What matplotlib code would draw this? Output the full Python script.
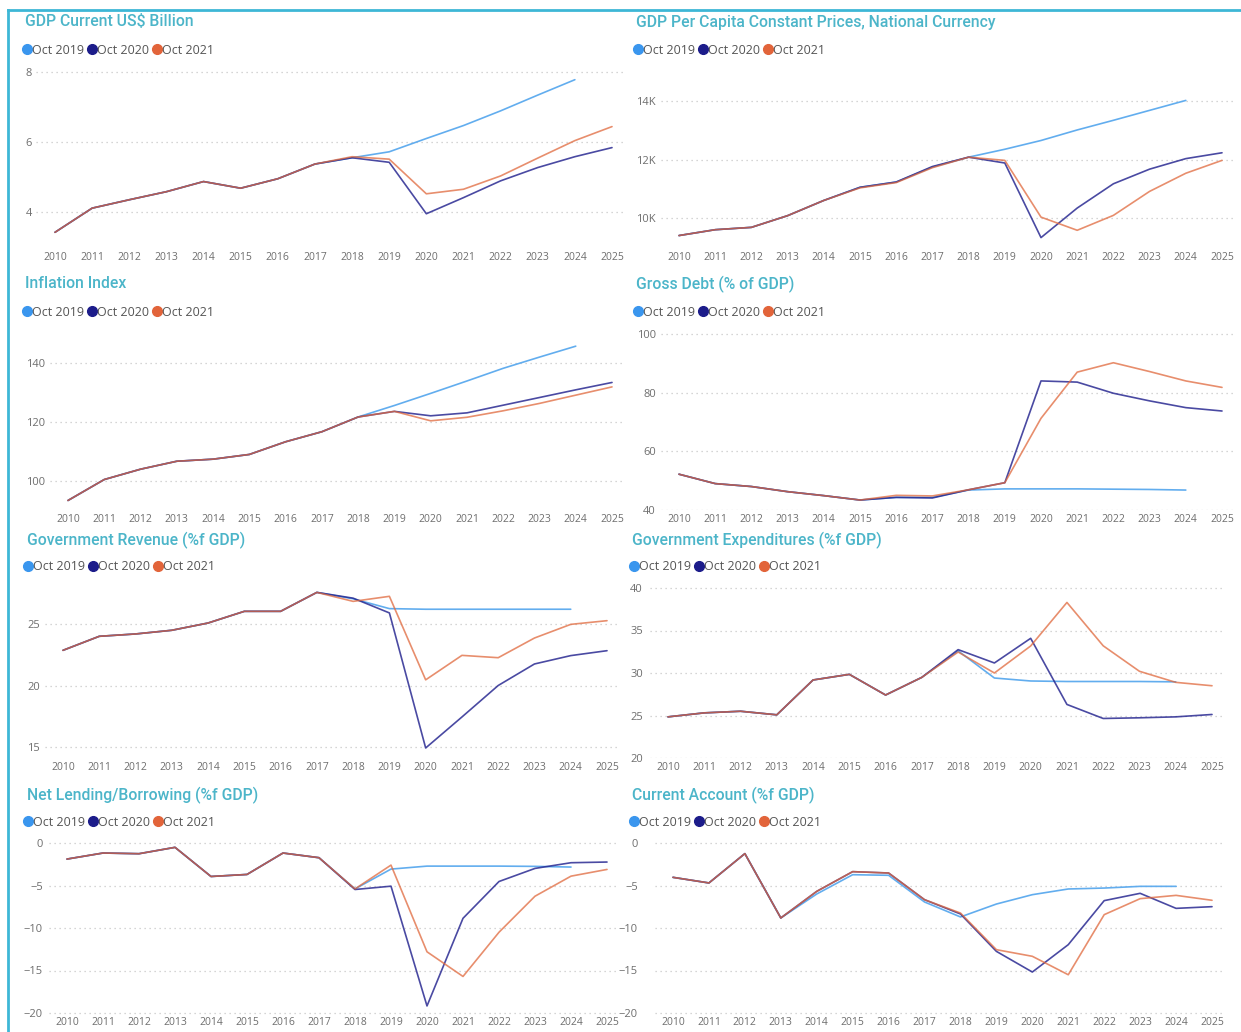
import numpy as np
import matplotlib
matplotlib.use("Agg")
import matplotlib.pyplot as plt
from matplotlib.lines import Line2D
from matplotlib.ticker import FuncFormatter

nan = np.nan
years = list(range(2010, 2026))
series_names = ["Oct 2019", "Oct 2020", "Oct 2021"]

# GDP Current US$ Billion
gdp_oct19 = [3.42, 4.11, 4.35, 4.58, 4.87, 4.68, 4.95, 5.37, 5.55, 5.72, 6.10, 6.47, 6.89, 7.34, 7.78, nan]
gdp_oct20 = [3.42, 4.11, 4.35, 4.58, 4.87, 4.68, 4.95, 5.37, 5.55, 5.42, 3.95, 4.41, 4.89, 5.27, 5.58, 5.84]
gdp_oct21 = [3.42, 4.11, 4.35, 4.58, 4.87, 4.68, 4.95, 5.37, 5.58, 5.51, 4.52, 4.65, 5.03, 5.54, 6.04, 6.44]

# GDP Per Capita Constant Prices, National Currency
gdppc_oct19 = [9400, 9600, 9680, 10080, 10600, 11050, 11230, 11740, 12080, 12350, 12650, 13010, 13340, 13680, 14020, nan]
gdppc_oct20 = [9400, 9600, 9680, 10080, 10600, 11050, 11230, 11760, 12080, 11880, 9330, 10340, 11170, 11670, 12030, 12230]
gdppc_oct21 = [9400, 9600, 9680, 10080, 10600, 11030, 11210, 11720, 12080, 11970, 10030, 9580, 10090, 10910, 11530, 11970]

# Inflation Index
infl_oct19 = [93.4, 100.5, 104.0, 106.7, 107.4, 109.0, 113.3, 116.7, 121.7, 125.6, 129.7, 133.9, 138.2, 142.0, 145.7, nan]
infl_oct20 = [93.4, 100.5, 104.0, 106.7, 107.4, 109.0, 113.3, 116.7, 121.7, 123.6, 122.1, 123.1, 125.7, 128.3, 130.9, 133.4]
infl_oct21 = [93.4, 100.5, 104.0, 106.7, 107.4, 109.0, 113.3, 116.7, 121.7, 123.6, 120.4, 121.6, 123.8, 126.3, 129.1, 131.9]

# Gross Debt (% of GDP)
debt_oct19 = [52.2, 49.0, 48.0, 46.25, 44.9, 43.4, 44.3, 44.3, 46.8, 47.2, 47.2, 47.2, 47.1, 47.0, 46.8, nan]
debt_oct20 = [52.2, 49.0, 48.0, 46.25, 44.9, 43.4, 44.3, 44.1, 46.9, 49.3, 84.0, 83.6, 79.8, 77.2, 74.9, 73.75]
debt_oct21 = [52.2, 49.0, 48.0, 46.25, 44.9, 43.4, 45.0, 44.8, 46.9, 49.3, 71.25, 87.0, 90.2, 87.2, 84.0, 81.8]

# Government Revenue (%f GDP)
rev_oct19 = [22.86, 24.0, 24.19, 24.49, 25.08, 26.03, 26.03, 27.57, 27.05, 26.25, 26.2, 26.2, 26.2, 26.2, 26.2, nan]
rev_oct20 = [22.86, 24.0, 24.19, 24.49, 25.08, 26.03, 26.03, 27.57, 27.1, 25.9, 14.92, 17.44, 20.0, 21.75, 22.43, 22.83]
rev_oct21 = [22.86, 24.0, 24.19, 24.49, 25.08, 26.03, 26.03, 27.57, 26.84, 27.25, 20.46, 22.45, 22.26, 23.86, 24.97, 25.27]

# Government Expenditures (%f GDP)
exp_oct19 = [24.84, 25.31, 25.5, 25.08, 29.18, 29.84, 27.41, 29.49, 32.6, 29.41, 29.06, 29.0, 29.0, 29.0, 28.96, nan]
exp_oct20 = [24.84, 25.31, 25.5, 25.08, 29.18, 29.84, 27.41, 29.49, 32.75, 31.18, 34.08, 26.3, 24.65, 24.73, 24.84, 25.12]
exp_oct21 = [24.84, 25.31, 25.5, 25.08, 29.18, 29.84, 27.41, 29.49, 32.47, 30.0, 33.18, 38.3, 33.2, 30.2, 28.9, 28.5]

# Net Lending/Borrowing (%f GDP)
nlb_oct19 = [-1.89, -1.18, -1.26, -0.51, -3.94, -3.7, -1.18, -1.73, -5.4, -3.07, -2.72, -2.72, -2.72, -2.75, -2.83, nan]
nlb_oct20 = [-1.89, -1.18, -1.26, -0.51, -3.94, -3.7, -1.18, -1.73, -5.47, -5.08, -19.17, -8.86, -4.53, -2.99, -2.32, -2.24]
nlb_oct21 = [-1.89, -1.18, -1.26, -0.51, -3.94, -3.7, -1.18, -1.73, -5.4, -2.6, -12.8, -15.7, -10.5, -6.26, -3.9, -3.11]

# Current Account (%f GDP)
ca_oct19 = [-4.04, -4.7, -1.25, -8.82, -6.0, -3.73, -3.8, -6.94, -8.7, -7.18, -6.08, -5.41, -5.3, -5.1, -5.1, nan]
ca_oct20 = [-4.04, -4.7, -1.25, -8.82, -5.69, -3.37, -3.53, -6.67, -8.35, -12.75, -15.18, -11.96, -6.78, -5.92, -7.69, -7.49]
ca_oct21 = [-4.04, -4.7, -1.25, -8.82, -5.69, -3.37, -3.53, -6.67, -8.24, -12.55, -13.33, -15.5, -8.43, -6.55, -6.16, -6.74]

W, H = 1241, 1032
fig = plt.figure(figsize=(W / 100, H / 100), dpi=100)
fig.patch.set_facecolor("white")

TITLE_C = "#4cb5c9"
TICK_C = "#6e6e6e"
LEG_C = "#555555"
dot_colors = ["#3a96ee", "#1c1c8a", "#e2643a"]
line_styles = [
    dict(color="#5aa9ee", lw=1.2, alpha=0.95, zorder=2),
    dict(color="#22228e", lw=1.2, alpha=0.82, zorder=3),
    dict(color="#e0683c", lw=1.2, alpha=0.75, zorder=4),
]


def place(x2010, x2025, xl, yv_lo, yp_lo, yv_hi, yp_hi, yl):
    sx = (x2025 - x2010) / 15.0
    left = x2010 + (xl[0] - 2010) * sx
    right = x2010 + (xl[1] - 2010) * sx
    sy = (yp_lo - yp_hi) / (yv_hi - yv_lo)
    top = yp_hi - (yl[1] - yv_hi) * sy
    bottom = yp_lo + (yv_lo - yl[0]) * sy
    ax = fig.add_axes([left / W, 1 - bottom / H, (right - left) / W, (bottom - top) / H])
    ax.set_xlim(*xl)
    ax.set_ylim(*yl)
    return ax, left, bottom


panels = [
    dict(title="GDP Current US$ Billion", data=(gdp_oct19, gdp_oct20, gdp_oct21),
         tx=25, ty=22, ly=50, lx=24, x0=55, x1=612, xl=(2009.5, 2025.3),
         yref=(4, 212, 8, 72), yl=(3.2, 8.1), yt=[4, 6, 8], lab_y=258, ylab_r=32, fmt=None),
    dict(title="GDP Per Capita Constant Prices, National Currency", data=(gdppc_oct19, gdppc_oct20, gdppc_oct21),
         tx=636, ty=22, ly=50, lx=635, x0=679, x1=1222, xl=(2009.5, 2025.3),
         yref=(10000, 218, 14000, 101), yl=(9050, 15200), yt=[10000, 12000, 14000], lab_y=258, ylab_r=656,
         fmt=lambda v, p: f"{int(v/1000)}K"),
    dict(title="Inflation Index", data=(infl_oct19, infl_oct20, infl_oct21),
         tx=25, ty=284, ly=312, lx=24, x0=68, x1=612, xl=(2009.5, 2025.3),
         yref=(100, 481, 140, 363), yl=(91.5, 150), yt=[100, 120, 140], lab_y=520, ylab_r=45, fmt=None),
    dict(title="Gross Debt (% of GDP)", data=(debt_oct19, debt_oct20, debt_oct21),
         tx=636, ty=284, ly=312, lx=635, x0=679, x1=1222, xl=(2009.5, 2025.3),
         yref=(40, 510, 100, 334), yl=(40, 101), yt=[40, 60, 80, 100], lab_y=520, ylab_r=656, fmt=None),
    dict(title="Government Revenue (%f GDP)", data=(rev_oct19, rev_oct20, rev_oct21),
         tx=27, ty=540, ly=567, lx=25, x0=63, x1=607, xl=(2009.5, 2025.3),
         yref=(15, 747, 25, 624), yl=(14.3, 28.3), yt=[15, 20, 25], lab_y=768, ylab_r=40, fmt=None),
    dict(title="Government Expenditures (%f GDP)", data=(exp_oct19, exp_oct20, exp_oct21),
         tx=632, ty=540, ly=567, lx=631, x0=668, x1=1212, xl=(2009.5, 2025.3),
         yref=(20, 758, 40, 588), yl=(20, 40.3), yt=[20, 25, 30, 35, 40], lab_y=768, ylab_r=643, fmt=None),
    dict(title="Net Lending/Borrowing (%f GDP)", data=(nlb_oct19, nlb_oct20, nlb_oct21),
         tx=27, ty=795, ly=822, lx=25, x0=67, x1=607, xl=(2009.5, 2025.3),
         yref=(-20, 1013, 0, 843), yl=(-20.3, 0.3), yt=[-20, -15, -10, -5, 0], lab_y=1023, ylab_r=43, fmt=None),
    dict(title="Current Account (%f GDP)", data=(ca_oct19, ca_oct20, ca_oct21),
         tx=632, ty=795, ly=822, lx=631, x0=673, x1=1212, xl=(2009.5, 2025.3),
         yref=(-20, 1013, 0, 843), yl=(-20.3, 0.3), yt=[-20, -15, -10, -5, 0], lab_y=1023, ylab_r=638, fmt=None),
]

handles = [Line2D([], [], marker="o", linestyle="", color=c, markersize=7) for c in dot_colors]

for p in panels:
    ax, left_px, bottom_px = place(p["x0"], p["x1"], p["xl"], *p["yref"], p["yl"])
    for vals, st in zip(p["data"], line_styles):
        ax.plot(years, vals, solid_capstyle="round", solid_joinstyle="round", **st)
    for s in ax.spines.values():
        s.set_visible(False)
    ax.set_xticks(years)
    ax.set_xticklabels([str(y) for y in years])
    ax.set_yticks(p["yt"])
    if p["fmt"]:
        ax.yaxis.set_major_formatter(FuncFormatter(p["fmt"]))
    ax.grid(axis="y", linestyle=(0, (1, 3)), color="#c8c8c8", linewidth=0.9)
    ax.grid(axis="x", visible=False)
    ax.set_axisbelow(True)
    xpad = (p["lab_y"] - bottom_px - 6) * 0.72
    ypad = (left_px - p["ylab_r"]) * 0.72
    ax.tick_params(axis="x", length=0, pad=max(xpad, 0), labelsize=7.5, labelcolor=TICK_C)
    ax.tick_params(axis="y", length=0, pad=max(ypad, 0), labelsize=8, labelcolor=TICK_C)
    for lab in ax.get_xticklabels() + ax.get_yticklabels():
        lab.set_fontfamily("Open Sans")
    fig.text(p["tx"] / W, 1 - p["ty"] / H, p["title"], fontsize=11.3, color=TITLE_C,
             fontfamily="Roboto", fontweight="medium", va="center", ha="left")
    leg = fig.legend(handles, series_names, loc="center left",
                     bbox_to_anchor=(p["lx"] / W, 1 - p["ly"] / H), ncol=3, frameon=False,
                     handlelength=0.55, handletextpad=0.12, columnspacing=0.35, borderpad=0,
                     borderaxespad=0, prop=dict(family="Open Sans", size=9))
    for t in leg.get_texts():
        t.set_color(LEG_C)

# dashboard border (left and top edges)
fig.add_artist(Line2D([8 / W, 8 / W], [0, 1 - 10 / H], color="#3db7d6", lw=2))
fig.add_artist(Line2D([8 / W, 1], [1 - 10 / H, 1 - 10 / H], color="#3db7d6", lw=2))

fig.savefig("out.png", dpi=100, facecolor="white")
